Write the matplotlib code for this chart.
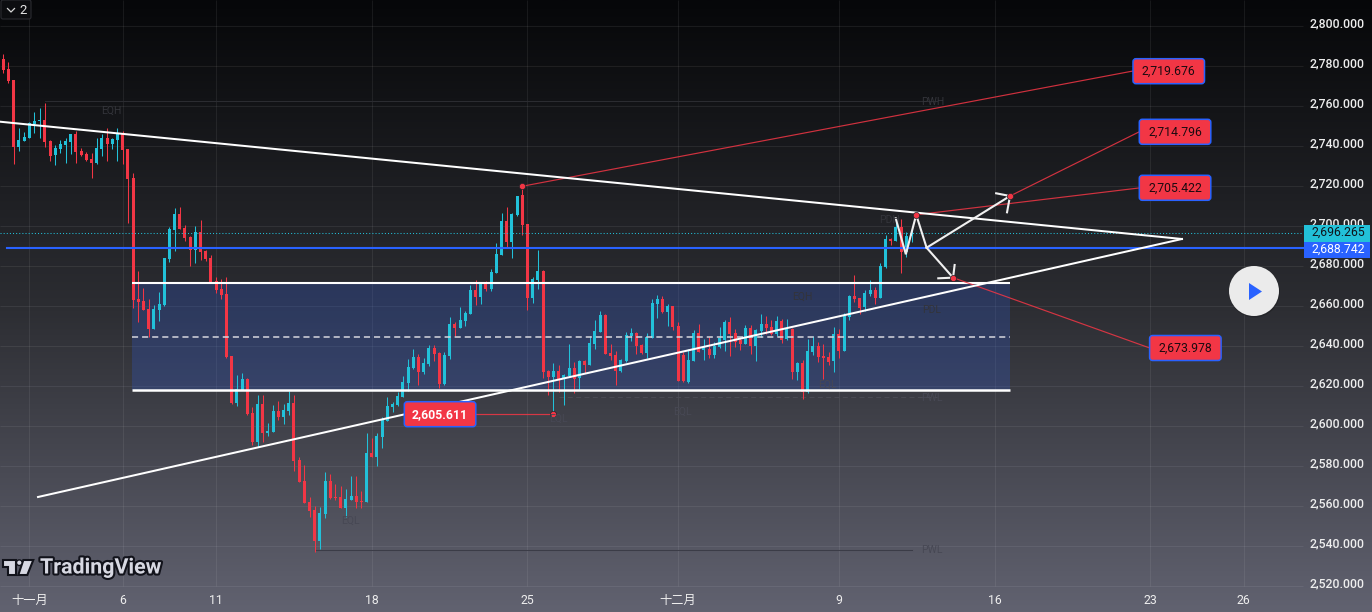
"""TradingView XAU style candle chart with drawings, rebuilt in matplotlib."""
import matplotlib
matplotlib.use("Agg")
import matplotlib.pyplot as plt
import matplotlib.patches as mpatches
import matplotlib.patheffects as pe
from matplotlib.colors import LinearSegmentedColormap
import numpy as np

plt.rcParams["font.family"] = ["Roboto", "Noto Sans CJK SC", "DejaVu Sans"]

RED = "#f23645"
CYAN = "#22c1d9"
BLUE = "#2962ff"

# candles
highs = [2785.75, 2781.75, 2772.75, 2748.75, 2746.75, 2751.75, 2756.75, 2758.75, 2761.25, 2742.75,
         2740.25, 2742.75, 2743.75, 2745.75, 2747.25, 2738.75, 2736.75, 2736.25, 2743.75, 2745.75,
         2748.75, 2743.75, 2748.75, 2747.25, 2738.25, 2726.25, 2677.25, 2668.75, 2663.1, 2660.25,
         2666.75, 2683.75, 2699.25, 2708.75, 2709.25, 2700.25, 2694.75, 2699.75, 2702.75, 2687.75,
         2685.25, 2674.25, 2673.25, 2674.25, 2634.75, 2625.25, 2626.25, 2623.75, 2609.25, 2615.25,
         2615.25, 2601.25, 2610.25, 2612.25, 2610.75, 2617.25, 2615.25, 2584.25, 2580.25, 2564.25,
         2559.75, 2559.25, 2576.75, 2575.75, 2570.75, 2569.75, 2568.25, 2574.75, 2574.75, 2567.25,
         2596.25, 2593.75, 2596.25, 2604.25, 2614.25, 2611.75, 2616.75, 2624.75, 2633.25, 2638.25,
         2635.75, 2633.75, 2640.25, 2640.25, 2636.75, 2636.75, 2654.25, 2651.75, 2659.25, 2657.25,
         2670.25, 2672.75, 2671.75, 2672.25, 2678.25, 2691.25, 2706.25, 2709.25, 2706.25, 2714.75,
         2719.676, 2700.75, 2674.25, 2687.75, 2677.75, 2627.75, 2631.25, 2630.25, 2625.75, 2640.75,
         2631.75, 2632.75, 2632.75, 2644.75, 2652.75, 2657.25, 2655.75, 2640.75, 2637.25, 2633.25,
         2646.75, 2648.75, 2646.75, 2640.75, 2646.25, 2663.25, 2665.25, 2664.75, 2660.75, 2659.75,
         2651.75, 2636.75, 2638.25, 2647.75, 2650.75, 2643.25, 2644.25, 2641.75, 2649.25, 2652.75,
         2654.25, 2648.25, 2644.25, 2650.25, 2650.25, 2648.25, 2655.75, 2654.75, 2652.75, 2654.75,
         2653.25, 2653.25, 2648.75, 2631.75, 2632.75, 2643.25, 2644.75, 2641.75, 2640.75, 2636.75,
         2649.25, 2648.25, 2656.25, 2665.25, 2675.25, 2663.75, 2667.75, 2672.75, 2669.25, 2681.25,
         2695.25, 2693.75, 2703.25, 2703.25, 2696.75, 2698.75]
body_top = [2783.1, 2778.1, 2772.75, 2742.75, 2744.25, 2751.25, 2752.25, 2752.75, 2752.75, 2742.25,
            2738.75, 2740.75, 2742.25, 2745.75, 2745.75, 2737.25, 2735.75, 2733.25, 2738.75, 2743.75,
            2743.75, 2743.25, 2746.25, 2746.25, 2738.25, 2723.75, 2663.1, 2662.25, 2658.25, 2658.25,
            2660.75, 2683.75, 2698.25, 2705.75, 2705.75, 2698.75, 2694.25, 2696.75, 2696.75, 2687.25,
            2683.75, 2672.25, 2668.25, 2665.75, 2634.75, 2618.25, 2623.25, 2623.25, 2606.25, 2610.75,
            2610.75, 2597.25, 2607.25, 2607.25, 2607.75, 2611.25, 2611.25, 2582.75, 2572.25, 2561.75,
            2557.75, 2556.25, 2572.25, 2572.25, 2564.25, 2564.25, 2563.25, 2564.75, 2564.75, 2562.25,
            2586.25, 2586.25, 2594.75, 2602.75, 2609.75, 2610.75, 2614.75, 2621.75, 2629.25, 2634.25,
            2634.25, 2631.25, 2638.75, 2638.75, 2636.25, 2635.4, 2650.75, 2650.75, 2652.75, 2656.25,
            2667.75, 2667.75, 2671.25, 2670.75, 2676.75, 2685.75, 2702.25, 2702.25, 2705.75, 2714.75,
            2715.25, 2700.75, 2673.25, 2677.25, 2677.25, 2627.25, 2627.25, 2627.25, 2625.25, 2628.75,
            2628.75, 2632.25, 2632.25, 2641.25, 2647.25, 2655.25, 2655.25, 2636.25, 2635.25, 2632.75,
            2645.25, 2646.25, 2646.25, 2640.25, 2644.25, 2661.25, 2663.25, 2663.25, 2659.75, 2659.75,
            2649.75, 2635.25, 2632.75, 2646.25, 2646.25, 2638.75, 2638.25, 2639.75, 2643.75, 2651.75,
            2651.75, 2646.25, 2642.75, 2648.75, 2648.75, 2647.75, 2650.75, 2650.75, 2649.25, 2652.25,
            2652.25, 2648.25, 2648.25, 2631.25, 2631.25, 2637.25, 2639.75, 2639.75, 2634.75, 2634.25,
            2645.75, 2645.75, 2654.75, 2664.75, 2664.75, 2663.75, 2666.25, 2667.75, 2667.75, 2679.75,
            2693.25, 2693.25, 2699.25, 2699.25, 2694.75, 2696.265]
body_bot = [2777.75, 2772.25, 2739.25, 2739.25, 2742.25, 2743.75, 2750.75, 2752.25, 2741.75, 2734.75,
            2735.25, 2738.25, 2740.25, 2741.75, 2736.75, 2735.25, 2732.75, 2731.25, 2731.25, 2738.25,
            2740.75, 2740.75, 2742.75, 2737.75, 2723.25, 2662.75, 2661.75, 2657.75, 2648.25, 2648.25,
            2657.75, 2660.25, 2683.25, 2697.75, 2698.25, 2693.75, 2687.75, 2687.75, 2686.75, 2683.25,
            2671.75, 2667.75, 2665.25, 2634.25, 2611.25, 2611.25, 2617.75, 2605.75, 2591.75, 2591.75,
            2596.25, 2596.25, 2596.75, 2604.25, 2604.25, 2607.25, 2582.25, 2571.75, 2561.25, 2557.25,
            2542.25, 2542.25, 2555.75, 2563.75, 2563.75, 2558.75, 2558.75, 2562.75, 2561.75, 2561.75,
            2561.75, 2584.25, 2584.25, 2594.25, 2602.25, 2609.25, 2610.25, 2614.25, 2621.25, 2628.75,
            2626.75, 2626.75, 2630.75, 2635.75, 2620.75, 2620.75, 2634.75, 2648.75, 2648.75, 2652.25,
            2655.75, 2664.25, 2664.25, 2668.25, 2668.25, 2676.25, 2685.25, 2691.75, 2691.75, 2705.25,
            2700.25, 2663.75, 2663.75, 2672.75, 2626.75, 2624.25, 2624.25, 2622.75, 2623.25, 2624.75,
            2623.25, 2623.75, 2630.25, 2630.25, 2640.75, 2646.75, 2635.75, 2634.75, 2627.25, 2627.25,
            2632.25, 2644.75, 2639.75, 2636.25, 2636.25, 2643.75, 2660.75, 2656.75, 2656.75, 2649.25,
            2622.25, 2622.25, 2621.75, 2632.25, 2636.75, 2637.75, 2635.25, 2635.25, 2639.25, 2642.75,
            2645.75, 2641.75, 2640.75, 2640.75, 2639.75, 2639.75, 2647.25, 2648.75, 2645.75, 2645.75,
            2642.75, 2643.25, 2626.75, 2626.75, 2616.75, 2616.75, 2636.75, 2634.25, 2633.75, 2631.75,
            2632.25, 2637.25, 2637.25, 2654.25, 2663.25, 2658.75, 2659.25, 2665.75, 2663.75, 2663.75,
            2679.25, 2692.25, 2692.25, 2686.75, 2686.75, 2694.75]
lows = [2776.4, 2771.4, 2730.9, 2737.4, 2742.25, 2743.75, 2746.25, 2743.75, 2739.25, 2732.25,
        2730.25, 2736.25, 2731.25, 2735.75, 2731.25, 2734.75, 2732.25, 2723.75, 2730.75, 2734.75,
        2732.25, 2738.25, 2732.25, 2730.75, 2701.25, 2658.75, 2651.75, 2657.75, 2644.25, 2648.25,
        2652.25, 2659.75, 2681.75, 2687.25, 2698.25, 2692.25, 2679.75, 2681.25, 2682.75, 2682.25,
        2671.25, 2666.25, 2663.25, 2633.75, 2610.75, 2609.75, 2617.75, 2605.25, 2590.25, 2589.25,
        2591.75, 2594.75, 2596.75, 2602.75, 2600.75, 2605.25, 2577.25, 2571.75, 2561.25, 2554.25,
        2536.75, 2538.25, 2553.75, 2563.25, 2562.75, 2558.75, 2554.25, 2562.75, 2558.75, 2558.75,
        2561.75, 2584.25, 2579.75, 2588.75, 2602.25, 2606.75, 2609.75, 2614.25, 2617.25, 2628.25,
        2620.25, 2625.75, 2629.75, 2632.25, 2618.75, 2620.25, 2633.4, 2644.75, 2648.75, 2649.75,
        2655.75, 2660.25, 2660.75, 2667.25, 2667.25, 2676.25, 2685.25, 2688.75, 2683.75, 2704.75,
        2695.1, 2657.75, 2661.25, 2668.25, 2623.75, 2615.25, 2605.611, 2616.75, 2610.25, 2624.75,
        2616.25, 2618.25, 2626.25, 2630.25, 2638.25, 2646.75, 2635.75, 2632.75, 2620.25, 2626.75,
        2631.75, 2642.25, 2635.75, 2635.75, 2633.75, 2643.75, 2653.75, 2656.25, 2649.75, 2647.75,
        2622.25, 2621.75, 2621.25, 2632.25, 2636.75, 2632.75, 2633.75, 2633.75, 2638.75, 2637.25,
        2634.75, 2639.25, 2637.75, 2640.75, 2635.75, 2632.25, 2644.25, 2645.75, 2645.25, 2644.75,
        2641.25, 2642.75, 2623.25, 2622.75, 2613.25, 2616.25, 2635.25, 2631.75, 2623.25, 2630.25,
        2626.75, 2633.75, 2637.25, 2652.75, 2661.75, 2655.75, 2657.25, 2664.75, 2660.75, 2663.75,
        2678.75, 2690.25, 2692.25, 2676.25, 2684.25, 2691.75]
direction = ("rrrcccccrrccccrrrrccrccrrrrrrcccccrrrcrrrrrrrccrrcrccrccrrrrrccrrrccrrcr"
             "ccccccccrccrrccrcccrcrcccrccrrccrrcrccrcrcccrrrcccrrccc"
             "rcrrrccrcrcccrrrcrccrrcrcrcrccrrrcrccrrccrccrcrcc")

price_ticks = [2800, 2780, 2760, 2740, 2720, 2700, 2680, 2660, 2640, 2620, 2600, 2580, 2560, 2540, 2520]
date_ticks = [5, 23, 41, 71, 101, 130, 161, 191, 221, 239]
date_labels = ["十一月", "6", "11", "18", "25", "十二月", "9", "16", "23", "26"]

last_price = 2696.265
level_price = 2688.742

# zone drawn on the chart
zone_x = [24.8, 194]
zone_top, zone_mid, zone_bot = 2671.2, 2644.4, 2617.7

# trend lines and path, candle index / price
trend_top_x = [-0.636, 227.1]
trend_top_y = [2751.95, 2693.3]
trend_low_x = [6.69, 227.1]
trend_low_y = [2564.3, 2693.3]
path_x = [171.95, 173.9, 175.9, 177.9]
path_y = [2703.65, 2685.65, 2705.422, 2688.95]
up_x = [177.9, 193.97]
up_y = [2688.95, 2714.796]
down_x = [177.9, 183]
down_y = [2688.95, 2673.978]
heads_x = [[191.3, 193.97, 193.4], [180.15, 183, 183.3]]
heads_y = [[2716.15, 2714.796, 2706.65], [2673.65, 2673.978, 2680.3]]

# callouts: anchor on chart, end of the leader line, label text, box in pixels
anchor_x = [100, 193.97, 175.9, 183, 106]
anchor_y = [2719.676, 2714.796, 2705.422, 2673.978, 2605.611]
leader_x = [217.67, 218.8, 218.8, 220.9, 91]
leader_y = [2777.3, 2746.8, 2718.8, 2638.8, 2605.611]
callouts = ["2,719.676", "2,714.796", "2,705.422", "2,673.978", "2,605.611"]
box_left = [1133, 1139.3, 1139.3, 1149.6, 404.3]
box_top = [58.7, 119.3, 175.3, 335.5, 401.7]

# faint smc labels (pixels)
faint_text = ["EQH", "PWH", "EQL", "PWL", "PDH", "EQL", "PWL", "PDL", "EQH", "EQL", "EQL"]
faint_x = [111, 933, 350, 932, 889, 827, 932, 932, 802, 558, 682]
faint_y = [111, 102, 521, 550, 220, 385, 398, 310, 297, 419, 412]

# pixel mapping of the screenshot
PX0, PXW = 3.3, 5.19
fig = plt.figure(figsize=(13.72, 6.12), dpi=100)
ax = fig.add_axes([0, 0, 1, 1])
ax.set_xlim(-PX0 / PXW, (1372 - PX0) / PXW)
ax.set_ylim(2506.8, 2812.8)
ax.axis("off")

# background gradient
cmap = LinearSegmentedColormap.from_list("bg", ["#060709", "#2c2d32", "#616270"], N=256)
grad = np.linspace(0, 1, 256).reshape(-1, 1)
ax.imshow(grad, cmap=cmap, aspect="auto", zorder=0,
          extent=[ax.get_xlim()[0], ax.get_xlim()[1], 2506.8, 2812.8], origin="upper")

# grid
x_end = (1303 - PX0) / PXW
ax.hlines(price_ticks, ax.get_xlim()[0], x_end, color="white", alpha=0.07, lw=0.75, zorder=1)
ax.vlines(date_ticks, 2520, 2812.8, color="white", alpha=0.07, lw=0.75, zorder=1)

# zone
ax.fill_between(zone_x, zone_bot, zone_top, color="#3056c2", alpha=0.3, lw=0, zorder=2)

# faint structure lines
ax.plot([8, 180], [2762.4, 2762.4], color="#2b2c31", lw=0.75, zorder=2)
ax.plot([60, 175], [2538, 2538], color="#3b3c47", lw=0.75, zorder=2)
ax.plot([107, 180], [2614.5, 2614.5], color="#4c4d57", lw=0.6, ls=(0, (6, 4)), zorder=2)

# candles
idx = np.arange(len(highs))
colors = [RED if d == "r" else CYAN for d in direction]
wicks = ax.vlines(idx, lows, highs, colors=colors, lw=0.75, zorder=3)
wicks.set_snap(True)
heights = np.array(body_top) - np.array(body_bot)
ax.bar(idx, heights, bottom=body_bot, width=3.0 / PXW, color=colors, lw=0, zorder=4)

# levels
ax.plot([-0.6, x_end], [last_price, last_price], color=CYAN, lw=0.75, ls=(0, (1, 2)), zorder=5)
ax.plot([0.7, x_end], [level_price, level_price], color=BLUE, lw=1.5, zorder=5)

# zone borders
ax.plot(zone_x, [zone_top, zone_top], color="white", lw=1.5, zorder=5, solid_capstyle="butt")
ax.plot(zone_x, [zone_bot, zone_bot], color="white", lw=1.8, zorder=5, solid_capstyle="butt")
ax.plot(zone_x, [zone_mid, zone_mid], color="#d6d7dd", lw=1.1, ls=(0, (4, 2.6)), zorder=5)

# red leaders and white drawings
for i in range(len(callouts)):
    ax.plot([anchor_x[i], leader_x[i]], [anchor_y[i], leader_y[i]], color=RED, lw=0.85, alpha=0.85, zorder=6)
ax.plot(trend_top_x, trend_top_y, color="white", lw=1.45, zorder=7)
ax.plot(trend_low_x, trend_low_y, color="white", lw=1.45, zorder=7)
ax.plot(path_x, path_y, color="#f0f0f0", lw=1.5, zorder=7, solid_joinstyle="miter")
ax.plot(up_x, up_y, color="#f0f0f0", lw=1.5, zorder=7)
ax.plot(down_x, down_y, color="#f0f0f0", lw=1.5, zorder=7)
for hx, hy in zip(heads_x, heads_y):
    ax.plot(hx, hy, color="#f0f0f0", lw=1.5, zorder=7)
ax.scatter(anchor_x, anchor_y, s=20, marker="o", color=RED, edgecolor="#20222a", linewidth=0.5, zorder=8)

# overlay in pixels for the screen furniture
ui = fig.add_axes([0, 0, 1, 1], facecolor="none")
ui.set_xlim(0, 1372)
ui.set_ylim(612, 0)
ui.axis("off")

for t, fx, fy in zip(faint_text, faint_x, faint_y):
    col = "#33343a" if fy < 340 else "#474854"
    ui.text(fx, fy, t, ha="center", va="center", fontsize=7.5, color=col, zorder=2)

# price scale
for p in price_ticks:
    y = 25.6 + 2 * (2800 - p) - 1.5
    ui.text(1365, y, f"{p:,.3f}", ha="right", va="center", fontsize=8.8, color="#eeeeee",
            fontweight="medium", zorder=3)
ui.add_patch(mpatches.Rectangle((1304, 225), 66, 17, color=CYAN, lw=0, zorder=4))
ui.text(1365, 232.5, f"{last_price:,.3f}", ha="right", va="center", fontsize=8.8, color="#10141c", zorder=5)
ui.add_patch(mpatches.Rectangle((1304, 242), 66, 16, color=BLUE, lw=0, zorder=4))
ui.text(1365, 249.5, f"{level_price:,.3f}", ha="right", va="center", fontsize=8.8, color="white", zorder=5)

# date scale
for d, lab in zip(date_ticks, date_labels):
    ui.text(PX0 + d * PXW, 600, lab, ha="center", va="center", fontsize=8.8, color="#eeeeee", zorder=3)

# callout boxes
for i, lab in enumerate(callouts):
    ui.add_patch(mpatches.FancyBboxPatch((box_left[i] + 3, box_top[i] + 3), 65.5, 19,
                                         boxstyle="round,pad=3", fc=RED, ec=BLUE, lw=1.1, zorder=4))
    white = i == 4
    ui.text(box_left[i] + 35.7, box_top[i] + 12.5, lab, ha="center", va="center", fontsize=8.8,
            color="white" if white else "#1c0a10", fontweight="bold" if white else "normal", zorder=5)

# play button
shadow = mpatches.Circle((1254.5, 292), 25.5, color="black", alpha=0.18, lw=0, zorder=4)
ui.add_patch(shadow)
ui.add_patch(mpatches.Circle((1254, 291), 25, color="#ebebeb", lw=0, zorder=5))
ui.add_patch(mpatches.Polygon([(1249, 283), (1262, 291.5), (1249, 300)], closed=True, color=BLUE, lw=0, zorder=6))

# interval button, top left
ui.add_patch(mpatches.FancyBboxPatch((3, 2), 26, 15, boxstyle="round,pad=2", fc="#0c0d10", ec="#2a2b30", lw=0.8, zorder=4))
ui.plot([7.5, 11, 14.5], [8.5, 12, 8.5], color="#d8d8d8", lw=0.9, zorder=5)
ui.text(23.5, 10, "2", ha="center", va="center", fontsize=9.5, color="#e4e4e4", zorder=5)

# logo
logo_fx = [pe.withStroke(linewidth=3, foreground="#12131b")]
logo_col = "#d7d8e2"
for poly in ([(3.3, 560), (16, 560), (16, 575), (8.3, 575), (8.3, 566.7), (3.3, 566.7)],
             [(23.3, 560), (33.3, 560), (27.3, 575), (18.3, 575)]):
    ui.add_patch(mpatches.Polygon(poly, closed=True, fc=logo_col, ec="#12131b", lw=1.5, zorder=5))
ui.add_patch(mpatches.Circle((19.3, 562.7), 2.8, fc=logo_col, ec="#12131b", lw=1, zorder=5))
ui.text(40, 568, "TradingView", ha="left", va="center", fontsize=15.4, fontweight="bold",
        color=logo_col, path_effects=logo_fx, zorder=5)

fig.savefig("out.png", dpi=100)
print("saved")
